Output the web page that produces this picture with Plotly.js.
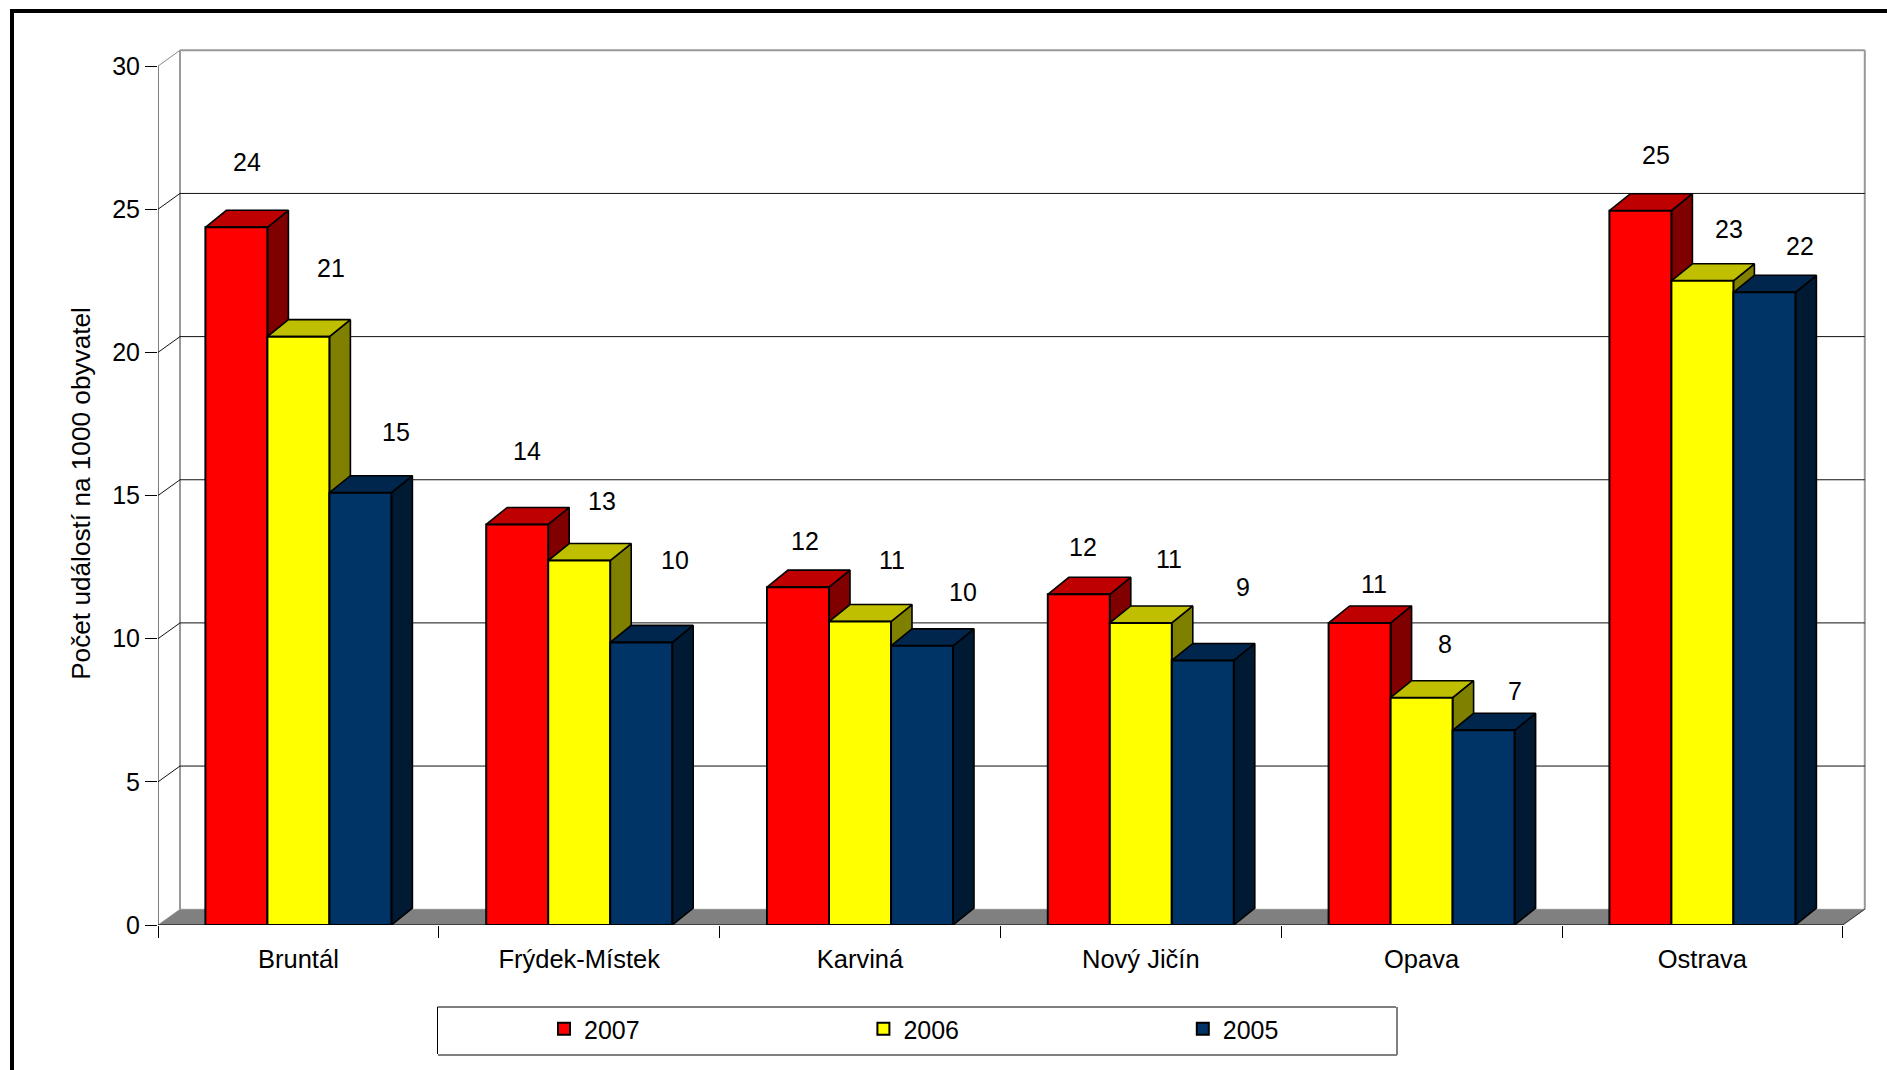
<!DOCTYPE html>
<html>
<head>
<meta charset="utf-8">
<script src="https://cdn.plot.ly/plotly-3.0.1.min.js"></script>
<style>html,body{margin:0;padding:0;background:#fff}#chart{width:1887px;height:1070px}</style>
</head>
<body>
<div id="chart"></div>
<script>
const categories = ["Bruntál", "Frýdek-Místek", "Karviná", "Nový Jičín", "Opava", "Ostrava"];
const seriesNames = ["2007", "2006", "2005"];
const values2007 = [24.37, 13.99, 11.8, 11.55, 10.55, 24.95];
const values2006 = [20.55, 12.73, 10.6, 10.55, 7.94, 22.5];
const values2005 = [15.1, 9.87, 9.75, 9.24, 6.8, 22.1];
const yTicks = [0, 5, 10, 15, 20, 25, 30];

// ---- styling and layout ----
const W = 1887, H = 1070;
const L = 158, R = 1872, T = 62, B = 925;
const pxPerCat = 280.8, pxPerUnit = 28.63;
const xMax = (R - L) / pxPerCat, yMax = (B - T) / pxPerUnit;
const barW = 62 / pxPerCat;
const wallDX = 22 / pxPerCat, wallDY = 15.8 / pxPerUnit;
const barDX = 21 / pxPerCat, barDY = 17 / pxPerUnit;
const faceColors = [
  {front: "#FF0000", top: "#BF0000", side: "#800000"},
  {front: "#FFFF00", top: "#BFBF00", side: "#808000"},
  {front: "#003366", top: "#00264D", side: "#001A33"}
];
// label nudges in px relative to the top centre of each bar's front face: [x, up]
const labelNudge = [
  [[10.3, 65], [32.6, 69], [35.6, 61]],
  [[9.9, 73.5], [22.6, 60], [33.9, 82]],
  [[7, 45.7], [31.8, 61.4], [40.8, 54]],
  [[4.3, 47], [27.8, 64], [40.4, 73.5]],
  [[14.8, 38.5], [23.8, 54], [31.6, 39.7]],
  [[15.6, 55.6], [27, 51.7], [35.8, 45.8]]
];
const FONT = "Liberation Sans, Arial, sans-serif";
const paperX = p => (p - L) / (R - L);
const paperY = p => (B - p) / (B - T);
// paper fractions of a point given in axis units (for chart walls outside the plot rectangle)
const axisPaperX = v => v * pxPerCat / (R - L);
const axisPaperY = v => v * pxPerUnit / (B - T);

const allSeries = [values2007, values2006, values2005];
const catCentre = i => i + 0.5;
const barCentre = (i, s) => catCentre(i) + (s - 1) * barW;

function lineTrace(xs, ys, color, width) {
  return {x: xs, y: ys, type: "scatter", mode: "lines", showlegend: false, hoverinfo: "skip",
    cliponaxis: false, line: {color: color, width: width}};
}
function polyTrace(xs, ys, fill, lineColor, width) {
  return {x: xs, y: ys, type: "scatter", mode: "lines", fill: "toself", fillcolor: fill,
    showlegend: false, hoverinfo: "skip", cliponaxis: false,
    line: {color: lineColor, width: width}};
}

const traces = [];
// floor
traces.push(polyTrace([0, 6, 6 + wallDX, wallDX, 0], [0, 0, wallDY, wallDY, 0], "#808080", "#808080", 0.5));
// gridlines on back wall and connectors
const gx = [], gy = [];
yTicks.filter(v => v > 0 && v < 30).forEach(v => {
  gx.push(0, wallDX, 6 + wallDX, null);
  gy.push(v, v + wallDY, v + wallDY, null);
});
traces.push(lineTrace(gx, gy, "#111111", 1));
traces.push(lineTrace([6, 6 + wallDX], [0, wallDY], "#333333", 1));
// front axis lines
traces.push(lineTrace([0, 0, 6], [30, 0, 0], "#000000", 1));
// depth faces, painted left to right
allSeries.forEach((vals, s) => {
  const tx = [], ty = [], sx = [], sy = [];
  vals.forEach((v, i) => {
    const x0 = barCentre(i, s) - barW / 2, x1 = x0 + barW;
    tx.push(x0, x1, x1 + barDX, x0 + barDX, x0, null);
    ty.push(v, v, v + barDY, v + barDY, v, null);
    sx.push(x1, x1 + barDX, x1 + barDX, x1, x1, null);
    sy.push(0, barDY, v + barDY, v, 0, null);
  });
  traces.push(polyTrace(sx, sy, faceColors[s].side, "#000000", 1.6));
  traces.push(polyTrace(tx, ty, faceColors[s].top, "#000000", 1.6));
});
// front faces on an overlaid subplot, so they sit above every depth face
allSeries.forEach((vals, s) => {
  traces.push({
    type: "bar", name: seriesNames[s], x: categories.map((c, i) => catCentre(i)), y: vals,
    xaxis: "x2", yaxis: "y2", cliponaxis: false, hoverinfo: "y",
    marker: {color: faceColors[s].front, line: {color: "#000000", width: 2}}
  });
});

const annotations = [];
allSeries.forEach((vals, s) => vals.forEach((v, i) => {
  annotations.push({
    xref: "x", yref: "y", x: barCentre(i, s), y: v, text: String(Math.round(v)),
    showarrow: false, xanchor: "center", yanchor: "middle",
    xshift: labelNudge[i][s][0], yshift: labelNudge[i][s][1],
    font: {family: FONT, size: 25, color: "#000"}
  });
}));

const wx0 = axisPaperX(wallDX), wx1 = axisPaperX(6 + wallDX);
const wy0 = axisPaperY(wallDY), wy1 = axisPaperY(30 + wallDY);
const pLine = (x0, y0, x1, y1, color, width) => ({type: "line", xref: "paper", yref: "paper", layer: "below",
  x0: x0, y0: y0, x1: x1, y1: y1, line: {color: color, width: width}});
const shapes = [
  // back wall outline
  pLine(wx0, wy0, wx0, wy1, "#999999", 2),
  pLine(wx0, wy1, wx1, wy1, "#999999", 2),
  pLine(wx1, wy1, wx1, wy0, "#999999", 2),
  pLine(axisPaperX(0), axisPaperY(30), wx0, wy1, "#888888", 1),
  // page frame
  {type: "rect", xref: "paper", yref: "paper", x0: paperX(10), x1: paperX(14), y0: paperY(1072), y1: paperY(9),
    fillcolor: "#000", line: {width: 0}},
  {type: "rect", xref: "paper", yref: "paper", x0: paperX(10), x1: paperX(1889), y0: paperY(13), y1: paperY(9),
    fillcolor: "#000", line: {width: 0}},
  // legend box
  pLine(paperX(438), paperY(1055), paperX(1397), paperY(1055), "#808080", 2),
  pLine(paperX(1397), paperY(1055), paperX(1397), paperY(1007), "#808080", 2),
  pLine(paperX(437.5), paperY(1007), paperX(1396), paperY(1007), "#000", 1),
  pLine(paperX(437.5), paperY(1007), paperX(437.5), paperY(1054), "#000", 1)
];

const layout = {
  width: W, height: H,
  margin: {l: L, r: W - R, t: T, b: H - B, pad: 0, autoexpand: false},
  paper_bgcolor: "#fff", plot_bgcolor: "rgba(0,0,0,0)",
  font: {family: FONT, size: 25, color: "#000"},
  barmode: "group", bargap: 1 - 3 * barW, bargroupgap: 0,
  xaxis: {
    type: "linear", range: [0, xMax], showgrid: false, zeroline: false, showline: false,
    tickmode: "array", tickvals: categories.map((c, i) => catCentre(i)), ticktext: categories,
    ticks: "outside", ticklen: 11, tickcolor: "rgba(0,0,0,0)", tickwidth: 1,
    tickfont: {family: FONT, size: 25.5},
    minor: {ticks: "outside", ticklen: 12, tickwidth: 1, tickcolor: "#000", tickmode: "array",
      tickvals: categories.map((c, i) => i).concat([categories.length]), showgrid: false}
  },
  yaxis: {
    type: "linear", range: [0, yMax], showgrid: false, zeroline: false, showline: false,
    tickmode: "array", tickvals: yTicks, ticks: "outside", ticklen: 12, tickwidth: 1, tickcolor: "#000",
    tickfont: {family: FONT, size: 25},
    title: {text: "Počet událostí na 1000 obyvatel", font: {family: FONT, size: 26.2}, standoff: 14}
  },
  xaxis2: {type: "linear", overlaying: "x", range: [0, xMax], visible: false},
  yaxis2: {type: "linear", overlaying: "y", range: [0, yMax], visible: false},
  legend: {
    orientation: "h", x: paperX(544), y: paperY(1006), xanchor: "left", yanchor: "top",
    bgcolor: "rgba(0,0,0,0)", borderwidth: 0, entrywidth: 274.4, entrywidthmode: "pixels",
    itemclick: false, itemdoubleclick: false, traceorder: "normal",
    font: {family: FONT, size: 25}
  },
  annotations: annotations,
  shapes: shapes
};
Plotly.newPlot("chart", traces, layout, {displayModeBar: false, staticPlot: true});
</script>
</body>
</html>
